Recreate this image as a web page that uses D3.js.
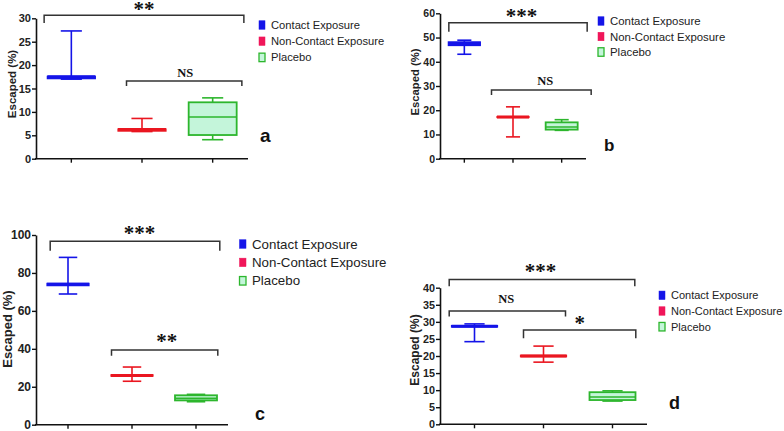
<!DOCTYPE html>
<html><head><meta charset="utf-8">
<script src="https://cdn.jsdelivr.net/npm/d3@7"></script>
<style>body{margin:0;background:#fff}svg{display:block}</style>
</head><body>
<svg id="chart" width="784" height="431"></svg>
<script>
// ---- data ----
const categories = ["Contact Exposure", "Non-Contact Exposure", "Placebo"];

const aMin = [17.0, 5.8, 4.06], aQ1 = [17.1, 5.9, 5.06], aMed = [17.5, 6.25, 8.9], aQ3 = [17.6, 6.35, 12.05], aMax = [27.3, 8.6, 13.0];
const bMin = [43.1, 9.0, 11.7], bQ1 = [46.7, 17.0, 12.0], bMed = [47.5, 17.2, 13.1], bQ3 = [48.2, 17.4, 15.0], bMax = [48.9, 21.4, 16.1];
const cMin = [68.9, 22.9, 12.1], cQ1 = [73.3, 25.6, 12.8], cMed = [74.0, 26.0, 13.9], cQ3 = [74.5, 26.3, 15.5], cMax = [88.2, 30.4, 16.0];
const dMin = [24.2, 18.2, 6.8], dQ1 = [28.5, 19.8, 7.1], dMed = [28.7, 20.0, 8.0], dQ3 = [28.9, 20.2, 9.4], dMax = [29.4, 22.9, 9.8];

const aTicks = [0, 5, 10, 15, 20, 25, 30];
const bTicks = [0, 10, 20, 30, 40, 50, 60];
const cTicks = [0, 20, 40, 60, 80, 100];
const dTicks = [0, 5, 10, 15, 20, 25, 30, 35, 40];

const aSig = [{from: 0, to: 2, label: "**"}, {from: 1, to: 2, label: "NS"}];
const bSig = [{from: 0, to: 2, label: "***"}, {from: 1, to: 2, label: "NS"}];
const cSig = [{from: 0, to: 2, label: "***"}, {from: 1, to: 2, label: "**"}];
const dSig = [{from: 0, to: 2, label: "***"}, {from: 0, to: 1, label: "NS"}, {from: 1, to: 2, label: "*"}];

const panelLetters = ["a", "b", "c", "d"];
const yTitle = "Escaped (%)";

// ---- styles ----
const colors = ["#1414e8", "#ea1620", "#2db62d"];
const fills = ["#1414e8", "#ea1620", "#c4f5da"];
const legendFills = ["#1414e8", "#f0165a", "#c4f5da"];

// ---- layout per panel ----
const panels = [
  {min: aMin, q1: aQ1, med: aMed, q3: aQ3, max: aMax, ticks: aTicks, sig: aSig, letter: panelLetters[0],
   ax: 36, xEnd: 248, yTop: 18.3, yBot: 158.7, boxW: 48, tickFs: 11,
   titleX: 12, titleY: 84, titleFs: 11.5,
   legX: 259, legY: 25, legStep: 16.2, legFs: 11.2, sqW: 6, sqH: 8.5,
   letX: 260, letY: 142, letFs: 19,
   br: [{top: 30.64, drop: 7.7, x1: -27.2, x2: 31.2, ly: -9.5, lx: 0},
        {top: 16.6, drop: 5, x1: -15.5, x2: 29.2, ly: -8, lx: 1}]},
  {min: bMin, q1: bQ1, med: bMed, q3: bQ3, max: bMax, ticks: bTicks, sig: bSig, letter: panelLetters[1],
   ax: 440, xEnd: 586, yTop: 13.3, yBot: 158.7, boxW: 32, tickFs: 10.5,
   titleX: 415, titleY: 82, titleFs: 11.3,
   legX: 598, legY: 21, legStep: 15.5, legFs: 11.4, sqW: 6, sqH: 8.5,
   letX: 604, letY: 151, letFs: 17,
   br: [{top: 56.1, drop: 9, x1: -15.5, x2: 25.5, ly: -10, lx: 3.5},
        {top: 28.35, drop: 5, x1: -21.5, x2: 29.5, ly: -9, lx: 4}]},
  {min: cMin, q1: cQ1, med: cMed, q3: cQ3, max: cMax, ticks: cTicks, sig: cSig, letter: panelLetters[2],
   ax: 36, xEnd: 228, yTop: 235, yBot: 424.7, boxW: 42, tickFs: 12,
   titleX: 7, titleY: 329, titleFs: 13,
   legX: 239.5, legY: 244, legStep: 18.4, legFs: 13.3, sqW: 6.5, sqH: 8.5,
   letX: 255, letY: 419.5, letFs: 18,
   br: [{top: 96.7, drop: 9.4, x1: -17.8, x2: 23.8, ly: -11.3, lx: 4.5},
        {top: 39.4, drop: 5.7, x1: -20.5, x2: 21.8, ly: -11.7, lx: 2}]},
  {min: dMin, q1: dQ1, med: dMed, q3: dQ3, max: dMax, ticks: dTicks, sig: dSig, letter: panelLetters[3],
   ax: 440, xEnd: 647, yTop: 287.7, yBot: 424.3, boxW: 46, tickFs: 10.8,
   titleX: 415, titleY: 350, titleFs: 12,
   legX: 659, legY: 295.3, legStep: 15.7, legFs: 11,  sqW: 6, sqH: 8.5,
   letX: 669, letY: 408.5, letFs: 18,
   br: [{top: 42.4, drop: 6.7, x1: -25.3, x2: 22.3, ly: -11, lx: -1.5},
        {top: 33.2, drop: 5.7, x1: -25.3, x2: 22, ly: -11.7, lx: -1},
        {top: 27.6, drop: 8.3, x1: -20, x2: 23.3, ly: -10, lx: 0}]}
];

const svg = d3.select("#chart");

panels.forEach(p => {
  const g = svg.append("g");
  const yMax = p.ticks[p.ticks.length - 1];
  const y = d3.scaleLinear().domain([0, yMax]).range([p.yBot, p.yTop]);
  const x = d3.scaleBand().domain(categories).range([p.ax, p.xEnd]);
  const cx = c => x(c) + x.bandwidth() / 2;

  // y axis
  const yAxis = g.append("g").attr("transform", `translate(${p.ax},0)`)
    .call(d3.axisLeft(y).tickValues(p.ticks).tickSize(4).tickPadding(1).tickSizeOuter(0));
  yAxis.select(".domain").attr("stroke", "#111").attr("stroke-width", 1.6);
  yAxis.selectAll(".tick line").attr("stroke", "#111").attr("stroke-width", 1.4);
  yAxis.selectAll("text").attr("font-family", "Liberation Sans, Arial, sans-serif")
    .attr("font-weight", "bold").attr("font-size", p.tickFs).attr("fill", "#222");

  // x axis
  const xAxis = g.append("g").attr("transform", `translate(0,${p.yBot})`)
    .call(d3.axisBottom(x).tickSize(4).tickSizeOuter(0).tickFormat(""));
  xAxis.select(".domain").attr("stroke", "#111").attr("stroke-width", 1.6)
    .attr("d", `M${p.ax - 1},0H${p.xEnd}`);
  xAxis.selectAll(".tick line").attr("stroke", "#111").attr("stroke-width", 1.4);

  // y title
  g.append("text").attr("transform", `translate(${p.titleX},${p.titleY}) rotate(-90)`)
    .attr("text-anchor", "middle").attr("dominant-baseline", "central")
    .attr("font-family", "Liberation Sans, Arial, sans-serif").attr("font-weight", "bold")
    .attr("font-size", p.titleFs).attr("fill", "#222").text(yTitle);

  // boxes
  const hw = p.boxW / 2, cw = p.boxW * 0.22;
  categories.forEach((c, i) => {
    const xc = cx(c);
    const col = colors[i];
    const bg = g.append("g");
    // whisker vertical
    bg.append("line").attr("x1", xc).attr("x2", xc).attr("y1", y(p.max[i])).attr("y2", y(p.q3[i]))
      .attr("stroke", col).attr("stroke-width", 1.6);
    bg.append("line").attr("x1", xc).attr("x2", xc).attr("y1", y(p.q1[i])).attr("y2", y(p.min[i]))
      .attr("stroke", col).attr("stroke-width", 1.6);
    // caps
    [p.max[i], p.min[i]].forEach(v => {
      bg.append("line").attr("x1", xc - cw).attr("x2", xc + cw).attr("y1", y(v)).attr("y2", y(v))
        .attr("stroke", col).attr("stroke-width", 1.6);
    });
    // box
    bg.append("rect").attr("x", xc - hw).attr("width", p.boxW)
      .attr("y", y(p.q3[i])).attr("height", Math.max(0.01, y(p.q1[i]) - y(p.q3[i])))
      .attr("fill", fills[i]).attr("stroke", col).attr("stroke-width", i === 2 ? 1.8 : 1.2);
    // median
    bg.append("line").attr("x1", xc - hw).attr("x2", xc + hw).attr("y1", y(p.med[i])).attr("y2", y(p.med[i]))
      .attr("stroke", col).attr("stroke-width", i === 2 ? 1.6 : 3);
  });

  // significance brackets
  p.sig.forEach((s, k) => {
    const b = p.br[k];
    const x1 = cx(categories[s.from]) + b.x1;
    const x2 = cx(categories[s.to]) + b.x2;
    const yt = y(b.top);
    g.append("path").attr("d", `M${x1},${yt + b.drop}V${yt}H${x2}V${yt + b.drop}`)
      .attr("fill", "none").attr("stroke", "#333").attr("stroke-width", 1.5);
    const lx = (x1 + x2) / 2 + b.lx, ly = yt + b.ly;
    if (s.label === "NS") {
      g.append("text").attr("x", lx).attr("y", ly).attr("text-anchor", "middle")
        .attr("dominant-baseline", "central")
        .attr("font-family", "Liberation Serif, Times New Roman, serif").attr("font-weight", "bold")
        .attr("font-size", 12.5).attr("fill", "#111").text(s.label);
    } else {
      g.append("text").attr("x", lx).attr("y", ly + 9.8).attr("text-anchor", "middle")
        .attr("font-family", "Liberation Serif, Times New Roman, serif").attr("font-weight", "bold")
        .attr("font-size", 21).attr("letter-spacing", 0).attr("fill", "#111").text(s.label);
    }
  });

  // legend
  categories.forEach((c, i) => {
    const ly = p.legY + i * p.legStep;
    g.append("rect").attr("x", p.legX).attr("y", ly - p.sqH / 2).attr("width", p.sqW).attr("height", p.sqH)
      .attr("fill", legendFills[i]).attr("stroke", i === 2 ? colors[2] : legendFills[i]).attr("stroke-width", i === 2 ? 1.3 : 0.5);
    g.append("text").attr("x", p.legX + p.sqW + 6).attr("y", ly).attr("dominant-baseline", "central")
      .attr("font-family", "Liberation Sans, Arial, sans-serif").attr("font-size", p.legFs)
      .attr("fill", "#222").text(c);
  });

  // panel letter
  g.append("text").attr("x", p.letX).attr("y", p.letY)
    .attr("font-family", "Liberation Sans, Arial, sans-serif").attr("font-weight", "bold")
    .attr("font-size", p.letFs).attr("fill", "#111").text(p.letter);
});
</script>
</body></html>
